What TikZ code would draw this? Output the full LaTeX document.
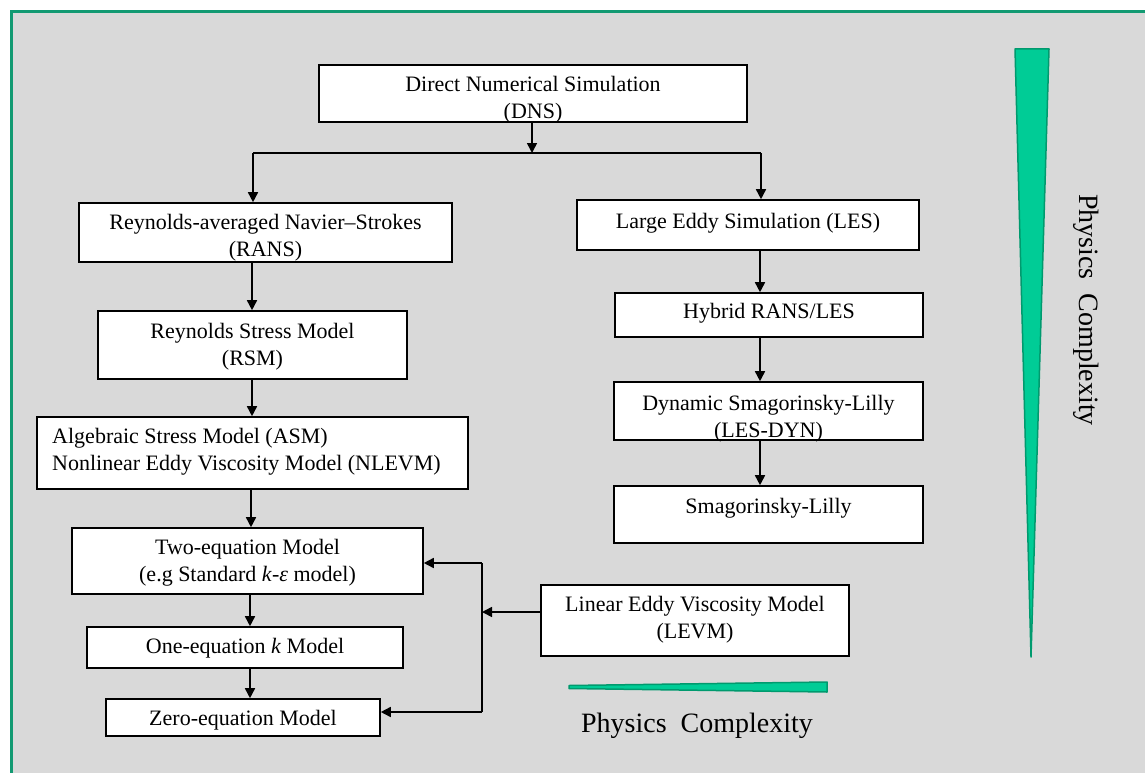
\documentclass[tikz,border=0pt]{standalone}
\usepackage{fontspec}
\setmainfont{Liberation Serif}
\usetikzlibrary{arrows.meta}
\definecolor{bggray}{HTML}{D9D9D9}
\definecolor{framegreen}{HTML}{129A72}
\definecolor{wedgefill}{HTML}{00CC96}
\definecolor{wedgeline}{HTML}{009A6E}
\begin{document}
\begin{tikzpicture}[x=1pt,y=-1pt,
  box/.style={draw=black, line width=1.6pt, fill=white, inner sep=0pt},
  txt/.style={font=\fontsize{22}{27}\selectfont, align=center, inner sep=0pt},
  arr/.style={line width=1.6pt, -{Triangle[length=10pt,width=10pt]}},
  link/.style={line width=1.6pt},
  big/.style={font=\fontsize{28}{32}\selectfont, inner sep=0pt},
  wedge/.style={fill=wedgefill, draw=wedgeline, line width=1.5pt, line join=round}]

\useasboundingbox (0,0) rectangle (1145,773);
\begin{scope}
  \clip (0,0) rectangle (1145,773);
  \draw[framegreen, line width=3pt, fill=bggray] (11.5,11.5) rectangle (1160,790);
\end{scope}

% left column
\node[box, minimum width=428pt, minimum height=57pt,
  label={[txt,yshift=-6pt]center:{Direct Numerical Simulation\\(DNS)}}] (dns) at (533,93.5) {};
\node[box, minimum width=373pt, minimum height=59pt,
  label={[txt,yshift=-5.5pt]center:{Reynolds-averaged Navier–Strokes\\(RANS)}}] (rans) at (265.5,232.5) {};
\node[box, minimum width=309pt, minimum height=68pt,
  label={[txt,yshift=-1.5pt]center:{Reynolds Stress Model\\(RSM)}}] (rsm) at (252.5,345) {};
\node[box, minimum width=431pt, minimum height=72pt,
  label={[txt,align=left,xshift=-6pt,yshift=1.5pt]center:{Algebraic Stress Model (ASM)\\Nonlinear Eddy Viscosity Model (NLEVM)}}] (asm) at (252.5,453) {};
\node[box, minimum width=351pt, minimum height=66pt,
  label={[txt,yshift=-2pt]center:{Two-equation Model\\(e.g Standard \textit{k}-\textit{ε} model)}}] (two) at (247.5,561) {};
\node[box, minimum width=316pt, minimum height=41pt,
  label={[txt,yshift=-0.5pt]center:{One-equation \textit{k} Model}}] (one) at (245,647.5) {};
\node[box, minimum width=274pt, minimum height=37pt,
  label={[txt,yshift=-2.5pt]center:{Zero-equation Model}}] (zero) at (243,717.5) {};

% right column
\node[box, minimum width=342pt, minimum height=50pt,
  label={[txt,yshift=2pt]center:{Large Eddy Simulation (LES)}}] (les) at (748,225) {};
\node[box, minimum width=308pt, minimum height=44pt,
  label={[txt,yshift=2pt]center:{Hybrid RANS/LES}}] (hyb) at (769,315) {};
\node[box, minimum width=309pt, minimum height=58pt,
  label={[txt,yshift=-7.5pt]center:{Dynamic Smagorinsky-Lilly\\(LES-DYN)}}] (dyn) at (768.5,411) {};
\node[box, minimum width=309pt, minimum height=57pt,
  label={[txt,yshift=6.5pt]center:{Smagorinsky-Lilly}}] (smag) at (768.5,514.5) {};
\node[box, minimum width=308pt, minimum height=71pt,
  label={[txt,yshift=0.5pt]center:{Linear Eddy Viscosity Model\\(LEVM)}}] (levm) at (695,620.5) {};

% connectors
\coordinate (split) at (532,153);
\coordinate (xL) at (253,0);
\coordinate (xR) at (761,0);
\coordinate (xa) at (252,0);
\coordinate (xb) at (251,0);
\coordinate (xc) at (250,0);
\coordinate (xh) at (760,0);
\draw[arr] (dns.south -| split) -- (split);
\draw[link] (split -| xL) -- (split -| xR);
\draw[arr] (split -| xL) -- (rans.north -| xL);
\draw[arr] (split -| xR) -- (les.north -| xR);
\draw[arr] (rans.south -| xa) -- (rsm.north -| xa);
\draw[arr] (rsm.south -| xa) -- (asm.north -| xa);
\draw[arr] (asm.south -| xb) -- (two.north -| xb);
\draw[arr] (two.south -| xc) -- (one.north -| xc);
\draw[arr] (one.south -| xc) -- (zero.north -| xc);
\draw[arr] (les.south -| xh) -- (hyb.north -| xh);
\draw[arr] (hyb.south -| xh) -- (dyn.north -| xh);
\draw[arr] (dyn.south -| xh) -- (smag.north -| xh);

\coordinate (fb) at (482,612);
\coordinate (fbT) at (482,563);
\coordinate (fbB) at (482,712);
\draw[arr] (levm.west |- fb) -- (fb);
\draw[link] (fbT) -- (fbB);
\draw[arr] (fbT) -- (two.east |- fbT);
\draw[arr] (fbB) -- (zero.east |- fbB);

% complexity wedges
\filldraw[wedge] (1015,49) -- (1049,49) -- (1031,657) -- cycle;
\filldraw[wedge] (569,685.5) -- (827,682) -- (827,692) -- (569,688.5) -- cycle;
\node[big, rotate=-90] (pcv) at (1086,310) {Physics\ \ Complexity};
\node[big] (pch) at (697,726) {Physics\ \ Complexity};
\end{tikzpicture}
\end{document}
